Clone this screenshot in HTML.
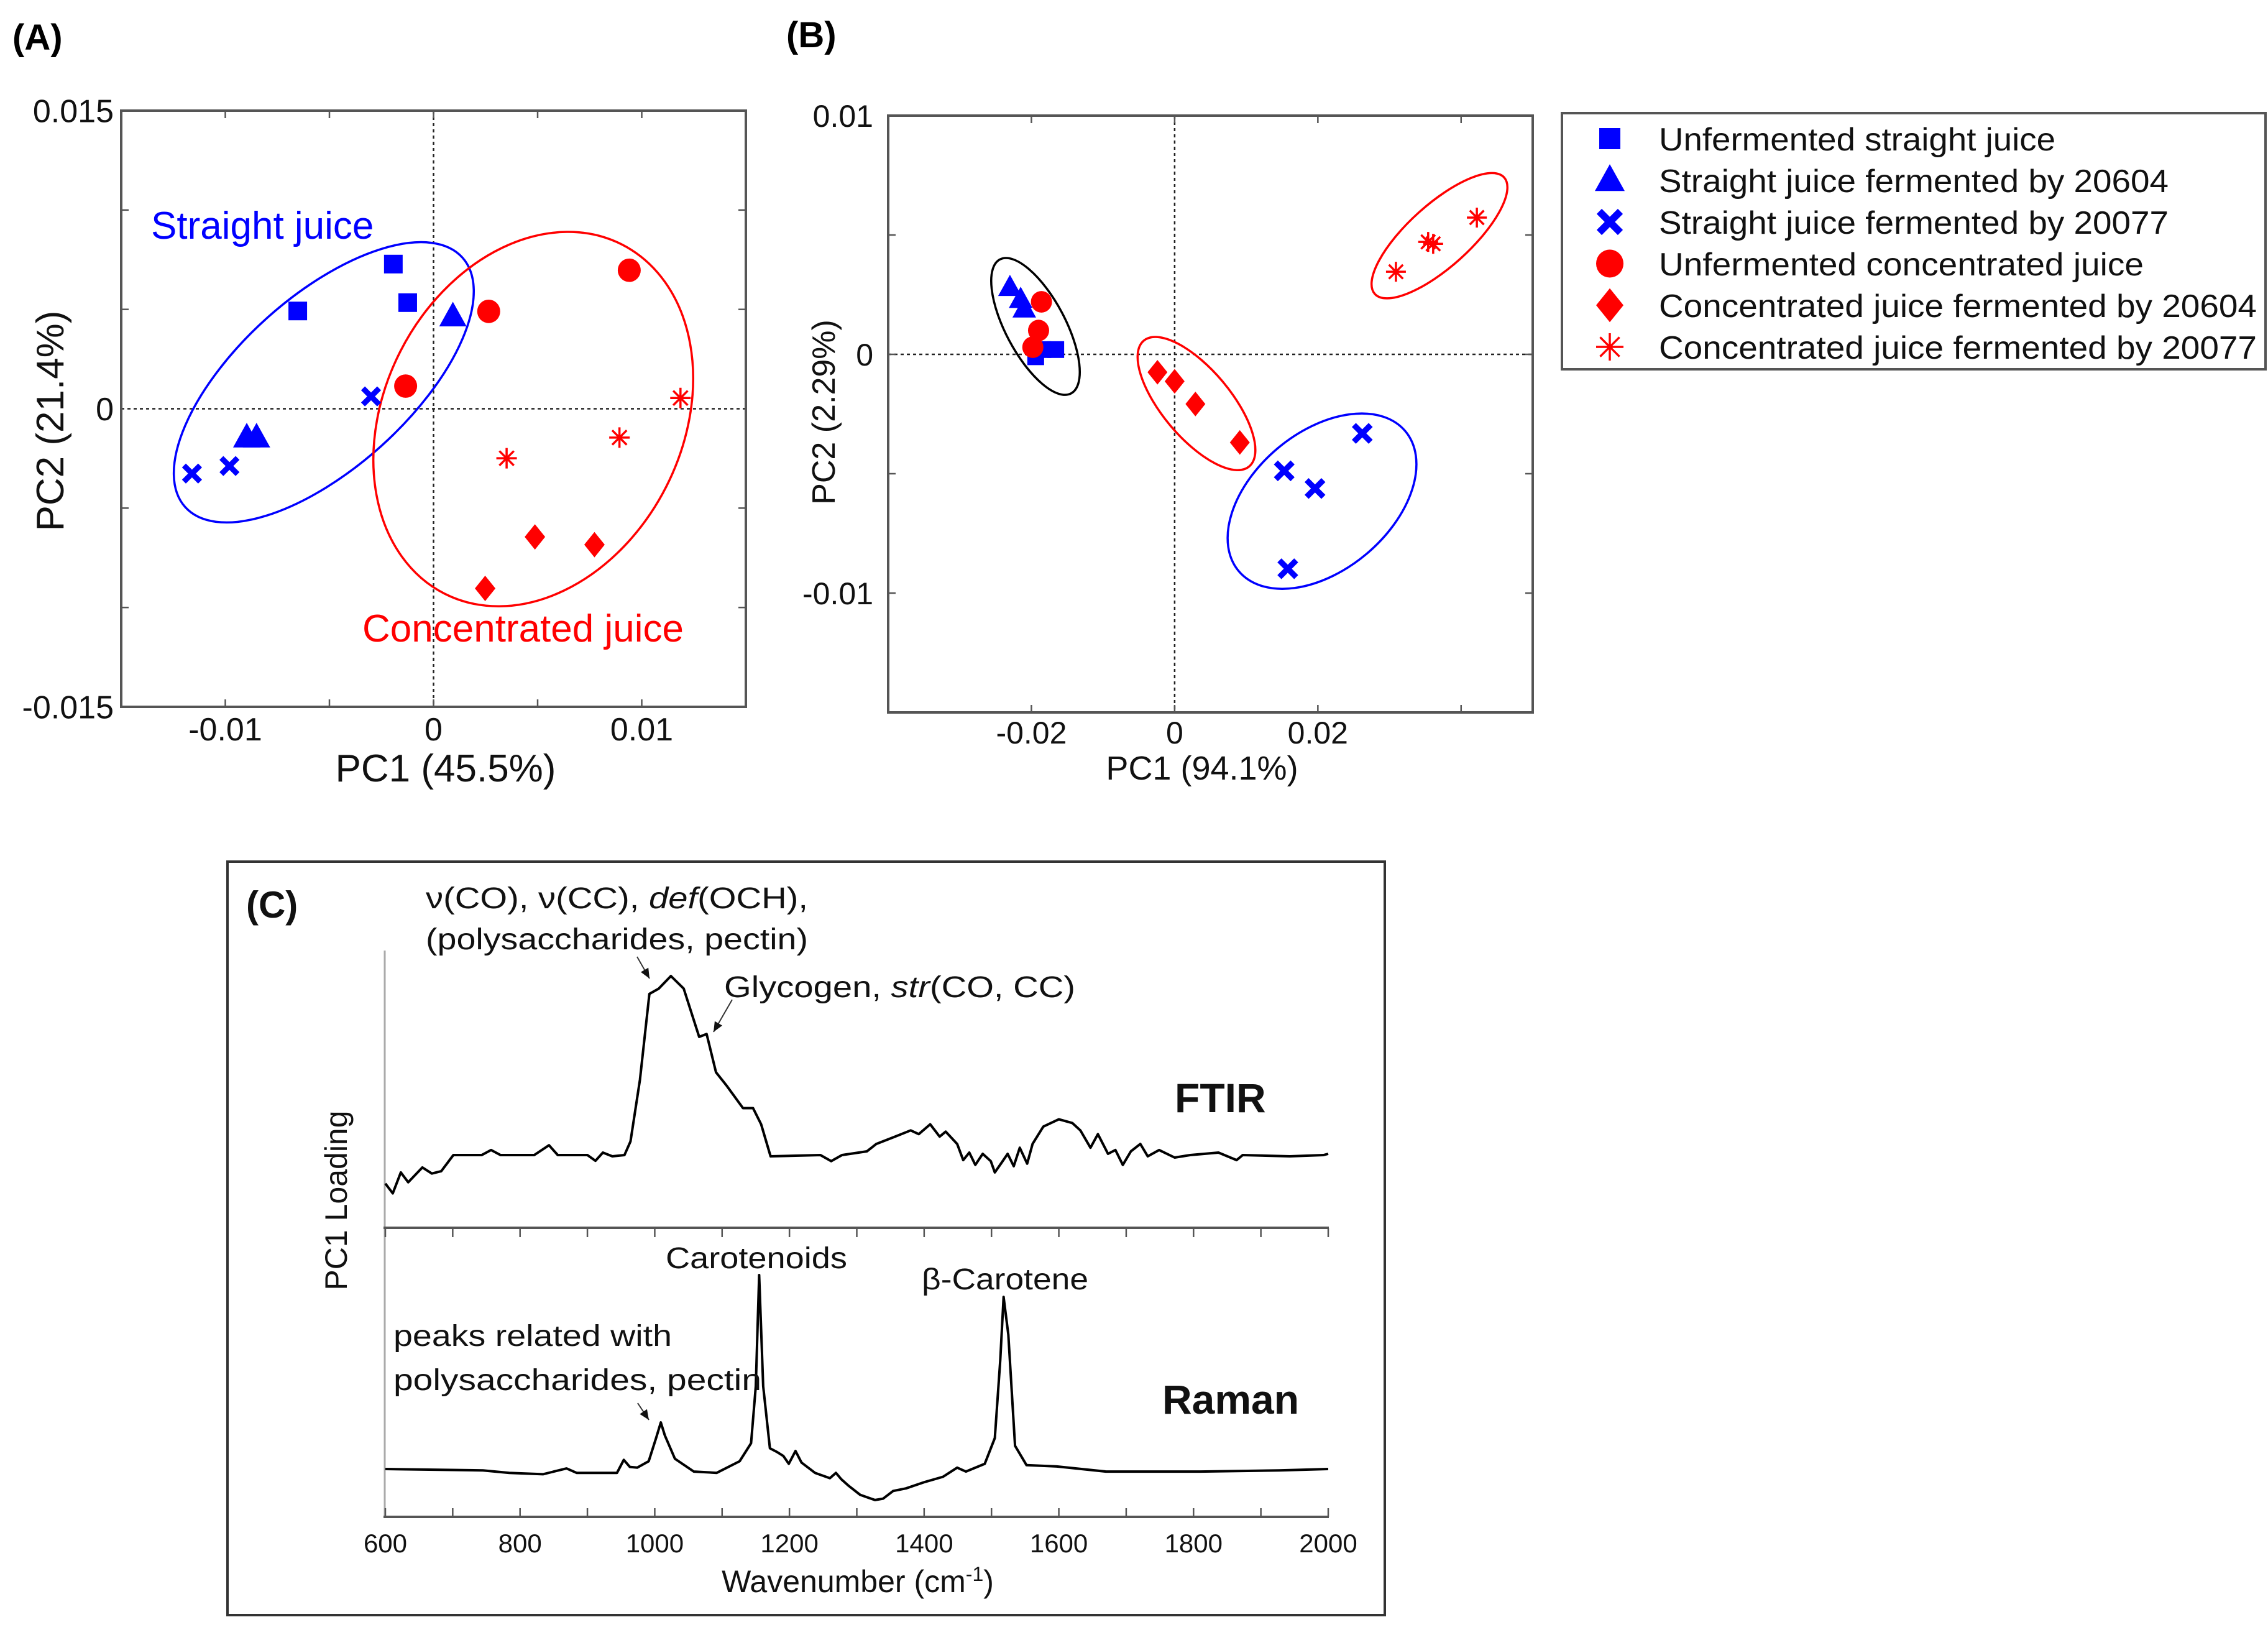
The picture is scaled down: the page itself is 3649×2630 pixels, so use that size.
<!DOCTYPE html>
<html><head><meta charset="utf-8"><style>
html,body{margin:0;padding:0;background:#fff}
svg{display:block;font-family:"Liberation Sans",Arial,sans-serif}
</style></head><body>
<svg id="fig" xmlns="http://www.w3.org/2000/svg" width="3649" height="2630" viewBox="0 0 3649 2630">
<rect width="3649" height="2630" fill="#fff"/>
<g id="pA"></g>
<g id="pB"></g>
<g id="pC"></g>
</svg>
<script>
// ---------- Panel A data ----------
const aSquareX=[-0.00193,-0.00652,-0.00124];
const aSquareY=[0.00728,0.00492,0.00534];
const aTriX=[0.00093,-0.00897,-0.0085];
const aTriY=[0.00464,-0.00145,-0.00145];
const aCrossX=[-0.0030,-0.0098,-0.0116];
const aCrossY=[0.00062,-0.00288,-0.00326];
const aCircX=[0.0094,0.00265,-0.00134];
const aCircY=[0.00697,0.0049,0.00114];
const aAstX=[0.01186,0.00893,0.00351];
const aAstY=[0.00054,-0.00145,-0.00249];
const aDiaX=[0.00487,0.00773,0.00248];
const aDiaY=[-0.00645,-0.00684,-0.00904];
const aXTicks=[-0.01,0,0.01];
const aXTickLabels=["-0.01","0","0.01"];
const aYTicks=[-0.015,0,0.015];
const aYTickLabels=["-0.015","0","0.015"];
// ---------- Panel B data ----------
const bSquareX=[-0.0194,-0.0166,-0.0184];
const bSquareY=[-0.0001,0.0002,0.0002];
const bTriX=[-0.0230,-0.0215,-0.0210];
const bTriY=[0.0028,0.0023,0.0019];
const bCrossX=[0.0262,0.0153,0.0196,0.0158];
const bCrossY=[-0.00331,-0.00488,-0.00562,-0.00898];
const bCircX=[-0.0186,-0.0190,-0.0198];
const bCircY=[0.0022,0.0010,0.0003];
const bDiaX=[-0.0024,0.0,0.0029,0.0091];
const bDiaY=[-0.00075,-0.00113,-0.00208,-0.00369];
const bAstX=[0.0309,0.0354,0.0361,0.0422];
const bAstY=[0.00346,0.00471,0.00463,0.00573];
const bXTicks=[-0.02,0,0.02];
const bXTickLabels=["-0.02","0","0.02"];
const bYTicks=[-0.01,0,0.01];
const bYTickLabels=["-0.01","0","0.01"];
const legendLabels=["Unfermented straight juice","Straight juice fermented by 20604","Straight juice fermented by 20077","Unfermented concentrated juice","Concentrated juice fermented by 20604","Concentrated juice fermented by 20077"];
// ---------- Panel C data ----------
const ftirW=[600,611,623,634,655,669,683,701,743,757,771,821,843,856,900,912,923,937,955,964,978,992,1006,1024,1043,1066,1077,1091,1107,1131,1146,1158,1172,1246,1262,1278,1315,1329,1357,1380,1392,1409,1423,1432,1449,1458,1467,1476,1487,1499,1505,1514,1524,1533,1542,1553,1561,1577,1600,1620,1632,1647,1658,1673,1684,1695,1707,1721,1732,1749,1772,1795,1837,1864,1873,1943,1993,2000];
const ftirV=[-0.159,-0.214,-0.097,-0.152,-0.069,-0.103,-0.09,0,0,0.028,0,0,0.055,0,0,-0.032,0.014,-0.007,0,0.076,0.42,0.90,0.93,1.0,0.93,0.66,0.676,0.462,0.386,0.262,0.262,0.172,-0.007,0,-0.034,0,0.021,0.062,0.103,0.138,0.117,0.172,0.103,0.131,0.062,-0.028,0.014,-0.055,0.007,-0.034,-0.097,-0.048,0.007,-0.062,0.041,-0.048,0.062,0.159,0.2,0.179,0.138,0.041,0.117,0.007,0.028,-0.055,0.021,0.062,-0.007,0.028,-0.014,0,0.014,-0.028,0,-0.007,0,0.007];
const ramanW=[600,745,784,834,869,884,944,954,963,974,991,1002,1009,1015,1030,1058,1092,1126,1143,1150,1155,1161,1171,1182,1191,1199,1209,1218,1238,1260,1269,1277,1288,1305,1327,1339,1354,1373,1401,1428,1449,1462,1490,1505,1513,1518,1525,1535,1552,1597,1670,1810,1927,2000];
const ramanV=[0,-0.007,-0.02,-0.027,0.003,-0.02,-0.02,0.047,0.011,0.007,0.04,0.16,0.24,0.173,0.053,-0.013,-0.02,0.04,0.133,0.427,1.0,0.427,0.107,0.087,0.067,0.027,0.093,0.033,-0.02,-0.047,-0.02,-0.053,-0.087,-0.133,-0.16,-0.153,-0.113,-0.1,-0.067,-0.04,0.007,-0.013,0.027,0.16,0.56,0.887,0.693,0.12,0.02,0.013,-0.013,-0.013,-0.007,0];
const cXTicks=[600,800,1000,1200,1400,1600,1800,2000];
const cXTickLabels=["600","800","1000","1200","1400","1600","1800","2000"];

const NS="http://www.w3.org/2000/svg";
const BLUE="#0000ff", RED="#ff0000";
function mk(parent,tag,attrs,text){const e=document.createElementNS(NS,tag);for(const k in attrs)e.setAttribute(k,attrs[k]);if(text!==undefined)e.textContent=text;parent.appendChild(e);return e;}

function marker(g,type,cx,cy,s,color){
  let e;
  if(type==="square"){e=mk(g,"rect",{x:cx-s/2,y:cy-s/2,width:s,height:s,fill:color});}
  else if(type==="tri"){const h=s*0.9;e=mk(g,"polygon",{points:`${cx},${cy-h*0.6} ${cx-s/2},${cy+h*0.4} ${cx+s/2},${cy+h*0.4}`,fill:color});}
  else if(type==="circle"){e=mk(g,"ellipse",{cx:cx,cy:cy,rx:s/2,ry:s/2*1.02,fill:color});}
  else if(type==="diamond"){e=mk(g,"polygon",{points:`${cx},${cy-s*0.62} ${cx+s/2},${cy} ${cx},${cy+s*0.62} ${cx-s/2},${cy}`,fill:color});}
  else if(type==="cross"){const r=s/2;e=mk(g,"path",{d:`M${cx-r},${cy-r}L${cx+r},${cy+r}M${cx-r},${cy+r}L${cx+r},${cy-r}`,stroke:color,"stroke-width":s*0.34,fill:"none"});}
  else {const r=s/2,d=r*0.707;e=mk(g,"path",{d:`M${cx-r},${cy}L${cx+r},${cy}M${cx},${cy-r}L${cx},${cy+r}M${cx-d},${cy-d}L${cx+d},${cy+d}M${cx-d},${cy+d}L${cx+d},${cy-d}`,stroke:color,"stroke-width":3.5,fill:"none"});}
  return e;
}

function scatterPanel(g,cfg){
  const {L,R,T,B,xmin,xmax,ymin,ymax}=cfg;
  const sx=v=>L+(v-xmin)/(xmax-xmin)*(R-L);
  const sy=v=>B-(v-ymin)/(ymax-ymin)*(B-T);
  const z1=mk(g,"line",{x1:sx(0),x2:sx(0),y1:T,y2:B,stroke:"#222","stroke-width":2.5,"stroke-dasharray":"5,5"});
  
  
  const z2=mk(g,"line",{x1:L,x2:R,y1:sy(0),y2:sy(0),stroke:"#222","stroke-width":2.5,"stroke-dasharray":"5,5"});
  
  
  for(const v of cfg.xAllTicks){const x=sx(v);mk(g,"line",{x1:x,x2:x,y1:T,y2:T+12,stroke:"#555","stroke-width":2.5});mk(g,"line",{x1:x,x2:x,y1:B,y2:B-12,stroke:"#555","stroke-width":2.5});}
  for(const v of cfg.yAllTicks){const y=sy(v);mk(g,"line",{x1:L,x2:L+12,y1:y,y2:y,stroke:"#555","stroke-width":2.5});mk(g,"line",{x1:R,x2:R-12,y1:y,y2:y,stroke:"#555","stroke-width":2.5});}
  cfg.ellipses.forEach((el,i)=>{
    const e=mk(g,"ellipse",{cx:sx(el.cx),cy:sy(el.cy),rx:el.rx,ry:el.ry,transform:`rotate(${el.rot} ${sx(el.cx)} ${sy(el.cy)})`,fill:"none",stroke:el.color,"stroke-width":3.5});
    
    
  });
  cfg.series.forEach(s=>{
    s.xs.forEach((xv,i)=>{
      const m=marker(g,s.type,sx(xv),sy(s.ys[i]),s.size,s.color);
      
      
    });
  });
  const fr=mk(g,"rect",{x:L,y:T,width:R-L,height:B-T,fill:"none",stroke:"#555","stroke-width":4});
  
  
  cfg.xTicks.forEach((v,i)=>{
    const t=mk(g,"text",{x:sx(v),y:B+cfg.xlabOff,"font-size":cfg.tickFs,"text-anchor":"middle",fill:"#111"},cfg.xLabels[i]);
    
    
  });
  cfg.yTicks.forEach((v,i)=>{
    const t=mk(g,"text",{x:L-cfg.ylabOff,y:sy(v)+cfg.tickFs*0.36,"font-size":cfg.tickFs,"text-anchor":"end",fill:"#111"},cfg.yLabels[i]);
    
    
  });
  return {sx,sy};
}

// ---- Panel A ----
const gA=document.getElementById('pA');
scatterPanel(gA,{L:195,R:1200,T:178,B:1137,xmin:-0.015,xmax:0.015,ymin:-0.015,ymax:0.015,
  xAllTicks:[-0.01,-0.005,0,0.005,0.01],yAllTicks:[-0.01,-0.005,0.005,0.01],
  xTicks:aXTicks,xLabels:aXTickLabels,yTicks:aYTicks,yLabels:aYTickLabels,tickFs:52,xlabOff:54,ylabOff:12,
  ellipses:[{cx:-0.00527,cy:0.00133,rx:300,ry:138,rot:-42,color:BLUE},{cx:0.00479,cy:-0.00052,rx:240,ry:315,rot:27,color:RED}],
  series:[
    {name:'unfermented-straight-marker',type:'square',xs:aSquareX,ys:aSquareY,size:30,color:BLUE},
    {name:'straight-20604-marker',type:'tri',xs:aTriX,ys:aTriY,size:44,color:BLUE},
    {name:'straight-20077-marker',type:'cross',xs:aCrossX,ys:aCrossY,size:26,color:BLUE},
    {name:'unfermented-concentrated-marker',type:'circle',xs:aCircX,ys:aCircY,size:37,color:RED},
    {name:'concentrated-20604-marker',type:'diamond',xs:aDiaX,ys:aDiaY,size:33,color:RED},
    {name:'concentrated-20077-marker',type:'ast',xs:aAstX,ys:aAstY,size:33,color:RED}
  ]});
let t;
t=mk(gA,"text",{x:20,y:80,"font-size":58,"font-weight":"bold"},"(A)");

t=mk(gA,"text",{x:717,y:1257,"font-size":62,"text-anchor":"middle",fill:"#111"},"PC1 (45.5%)");

t=mk(gA,"text",{x:0,y:0,"font-size":62,"text-anchor":"middle",fill:"#111",transform:"translate(102,677) rotate(-90)"},"PC2 (21.4%)");

t=mk(gA,"text",{x:243,y:384,"font-size":62,fill:BLUE},"Straight juice");

t=mk(gA,"text",{x:583,y:1032,"font-size":62,fill:RED},"Concentrated juice");


// ---- Panel B ----
const gB=document.getElementById('pB');
scatterPanel(gB,{L:1429,R:2466,T:186,B:1146,xmin:-0.04,xmax:0.05,ymin:-0.015,ymax:0.01,
  xAllTicks:[-0.04,-0.02,0,0.02,0.04],yAllTicks:[-0.01,-0.005,0,0.005],
  xTicks:bXTicks,xLabels:bXTickLabels,yTicks:bYTicks,yLabels:bYTickLabels,tickFs:50,xlabOff:50,ylabOff:24,
  ellipses:[{cx:-0.01943,cy:0.00117,rx:48,ry:122,rot:-28,color:"#000"},{cx:0.00305,cy:-0.00206,rx:132,ry:55,rot:50,color:RED},{cx:0.02058,cy:-0.00615,rx:175,ry:111,rot:-40,color:BLUE},{cx:0.03698,cy:0.00497,rx:140,ry:50,rot:-42,color:RED}],
  series:[
    {name:'unfermented-straight-marker',type:'square',xs:bSquareX,ys:bSquareY,size:27,color:BLUE},
    {name:'straight-20604-marker',type:'tri',xs:bTriX,ys:bTriY,size:38,color:BLUE},
    {name:'straight-20077-marker',type:'cross',xs:bCrossX,ys:bCrossY,size:27,color:BLUE},
    {name:'unfermented-concentrated-marker',type:'circle',xs:bCircX,ys:bCircY,size:34,color:RED},
    {name:'concentrated-20604-marker',type:'diamond',xs:bDiaX,ys:bDiaY,size:32,color:RED},
    {name:'concentrated-20077-marker',type:'ast',xs:bAstX,ys:bAstY,size:32,color:RED}
  ]});
t=mk(gB,"text",{x:1265,y:76,"font-size":58,"font-weight":"bold"},"(B)");

t=mk(gB,"text",{x:1934,y:1254,"font-size":54,"text-anchor":"middle",fill:"#111"},"PC1 (94.1%)");

t=mk(gB,"text",{x:0,y:0,"font-size":52,"text-anchor":"middle",fill:"#111",transform:"translate(1343,663) rotate(-90)"},"PC2 (2.29%)");

const leg=mk(gB,"g",{});


mk(leg,"rect",{x:2513,y:182,width:1132,height:412,fill:"#fff",stroke:"#555","stroke-width":4});
const legTypes=['square','tri','cross','circle','diamond','ast'];
const legColors=[BLUE,BLUE,BLUE,RED,RED,RED];
const legSizes=[34,48,34,44,44,44];
const legLens=[638,820,820,780,962,962];
legendLabels.forEach((lab,i)=>{
  const cy=223+i*67;
  const m=marker(leg,legTypes[i],2590,cy,legSizes[i],legColors[i]);
  
  
  const tx=mk(leg,"text",{x:2669,y:cy+19,"font-size":52,fill:"#111",textLength:legLens[i],lengthAdjust:"spacingAndGlyphs"},lab);
  
  
});

// ---- Panel C ----
const gC=document.getElementById('pC');
const xC=w=>620+(w-600)*1517/1400;
const yF=v=>1858-v*288;
const yR=v=>2363-v*312;
const box=mk(gC,"rect",{x:366,y:1386,width:1862,height:1212,fill:"none",stroke:"#333","stroke-width":4});

mk(gC,"line",{x1:619,x2:619,y1:1529,y2:2440,stroke:"#aaa","stroke-width":3});
const div=mk(gC,"line",{x1:617,x2:2138,y1:1975,y2:1975,stroke:"#555","stroke-width":4});

const bax=mk(gC,"line",{x1:617,x2:2138,y1:2440,y2:2440,stroke:"#555","stroke-width":4});

for(let w=600;w<=2000;w+=100){const x=xC(w);mk(gC,"line",{x1:x,x2:x,y1:1975,y2:1990,stroke:"#555","stroke-width":2.5});mk(gC,"line",{x1:x,x2:x,y1:2440,y2:2426,stroke:"#555","stroke-width":2.5});}
cXTicks.forEach((w,i)=>{
  const tx=mk(gC,"text",{x:xC(w),y:2497,"font-size":42,"text-anchor":"middle",fill:"#111"},cXTickLabels[i]);
  
  
});
let d=ftirW.map((w,i)=>(i?'L':'M')+xC(w).toFixed(1)+','+yF(ftirV[i]).toFixed(1)).join('');
const fp=mk(gC,"path",{d:d,fill:"none",stroke:"#000","stroke-width":4,"stroke-linejoin":"round"});

d=ramanW.map((w,i)=>(i?'L':'M')+xC(w).toFixed(1)+','+yR(ramanV[i]).toFixed(1)).join('');
const rp=mk(gC,"path",{d:d,fill:"none",stroke:"#000","stroke-width":4,"stroke-linejoin":"round"});

function txt(x,y,fs,s,name,extra){const e=mk(gC,"text",Object.assign({x:x,y:y,"font-size":fs,fill:"#111"},extra||{}));e.innerHTML=s;return e;}
txt(396,1476,60,"(C)","panel-c-label",{"font-weight":"bold"});
txt(685,1461,48,"ν(CO), ν(CC), <tspan font-style='italic'>def</tspan>(OCH),","ftir-annotation-1",{textLength:615,lengthAdjust:"spacingAndGlyphs"});
txt(685,1527,48,"(polysaccharides, pectin)","ftir-annotation-2",{textLength:615,lengthAdjust:"spacingAndGlyphs"});
txt(1165,1604,48,"Glycogen, <tspan font-style='italic'>str</tspan>(CO, CC)","glycogen-annotation",{textLength:565,lengthAdjust:"spacingAndGlyphs"});
txt(1890,1789,66,"FTIR","ftir-label",{"font-weight":"bold"});
txt(1071,2040,48,"Carotenoids","carotenoids-annotation",{textLength:292,lengthAdjust:"spacingAndGlyphs"});
txt(1483,2074,48,"β-Carotene","beta-carotene-annotation",{textLength:268,lengthAdjust:"spacingAndGlyphs"});
txt(633,2165,48,"peaks related with","raman-annotation-1",{textLength:448,lengthAdjust:"spacingAndGlyphs"});
txt(633,2236,48,"polysaccharides, pectin","raman-annotation-2",{textLength:592,lengthAdjust:"spacingAndGlyphs"});
txt(1870,2274,66,"Raman","raman-label",{"font-weight":"bold"});
txt(1380,2561,50,"Wavenumber (cm<tspan dy='-18' font-size='32'>-1</tspan><tspan dy='18'>)</tspan>","x-axis-title",{"text-anchor":"middle"});
const yl=mk(gC,"text",{x:0,y:0,"font-size":50,"text-anchor":"middle",fill:"#111",transform:"translate(558,1931) rotate(-90)"},"PC1 Loading");

function arrow(x1,y1,x2,y2,name){
  const g=mk(gC,"g",{});
  
  
  mk(g,"line",{x1:x1,y1:y1,x2:x2,y2:y2,stroke:"#333","stroke-width":2});
  const a=Math.atan2(y2-y1,x2-x1),L=16,W=7;
  const bx=x2-L*Math.cos(a),by=y2-L*Math.sin(a);
  mk(g,"polygon",{points:`${x2},${y2} ${bx-W*Math.sin(a)},${by+W*Math.cos(a)} ${bx+W*Math.sin(a)},${by-W*Math.cos(a)}`,fill:"#111"});
}
arrow(1025,1539,1045,1574,'annotation-arrow');
arrow(1178,1608,1148,1660,'annotation-arrow');
arrow(1026,2257,1044,2284,'annotation-arrow');
</script>
</body></html>
